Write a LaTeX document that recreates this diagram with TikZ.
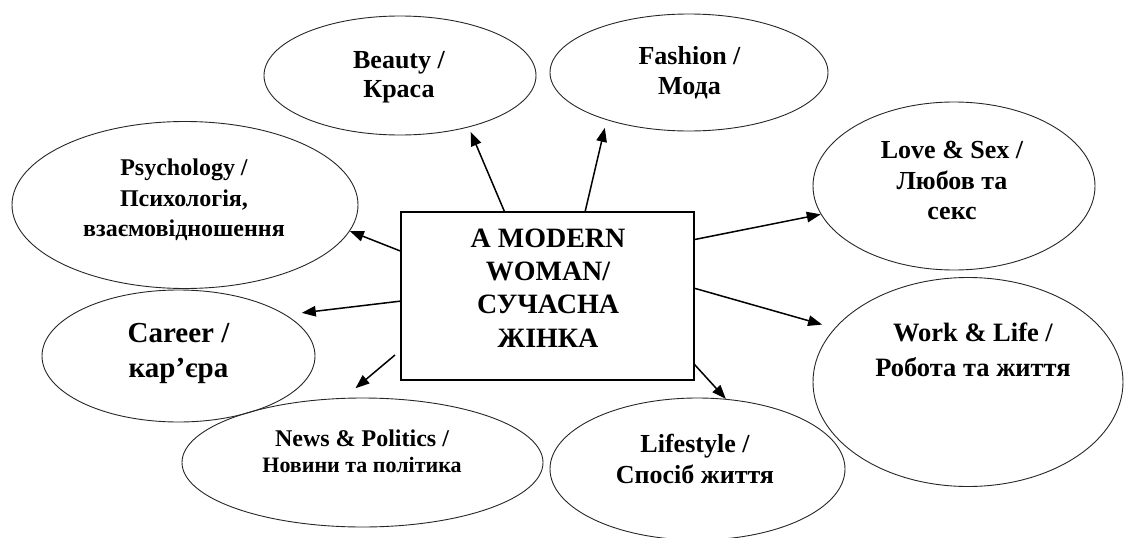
\documentclass[tikz,border=0pt]{standalone}
\usepackage{fontspec}
\setmainfont{Liberation Serif}
\usetikzlibrary{shapes.geometric,arrows.meta}
\begin{document}
\begin{tikzpicture}[x=1pt,y=-1pt,
  bubble/.style={draw=black!85, line width=0.9pt, ellipse, inner sep=0pt},
  lbl/.style={align=center, inner sep=0pt},
  arr/.style={-{Triangle[length=14pt,width=10.5pt]}, line width=1.5pt},
  centrebox/.style={draw, line width=1.2pt, inner sep=0pt, minimum width=293pt, minimum height=168pt}
]
\useasboundingbox (0,0) rectangle (1125,538);

% ellipses
\node[bubble, minimum width=272pt, minimum height=119pt] (beauty)  at (400,75.5) {};
\node[bubble, minimum width=278pt, minimum height=117pt] (fashion) at (689,72.5) {};
\node[bubble, minimum width=346pt, minimum height=167pt] (psych)   at (185,205) {};
\node[bubble, minimum width=273pt, minimum height=132pt] (career)  at (178.5,356) {};
\node[bubble, minimum width=282pt, minimum height=168pt] (love)    at (954,186) {};
\node[bubble, minimum width=310pt, minimum height=209pt] (work)    at (968,382) {};
\node[bubble, minimum width=295pt, minimum height=142pt] (life)    at (697.5,469) {};
\node[bubble, minimum width=361pt, minimum height=129pt] (news)    at (362.5,462.5) {};

% centre box
\node[centrebox] (box) at (547.5,296) {};

% labels
\node[lbl, font=\fontsize{26}{29}\selectfont\bfseries] (tbeauty) at (399,77) {Beauty /\\Краса};
\node[lbl, font=\fontsize{26}{30}\selectfont\bfseries] (tfashion) at (689.5,72.5) {Fashion /\\Мода};
\node[lbl, font=\fontsize{24}{30.5}\selectfont\bfseries] (tpsych) at (184,200) {Psychology /\\Психологія,\\взаємовідношення};
\node[lbl, font=\fontsize{29}{35}\selectfont\bfseries] (tcareer) at (178.5,353.6) {Career /\\кар’єра};
\node[lbl, font=\fontsize{26}{30.5}\selectfont\bfseries] (tlove) at (952,180.5) {Love \& Sex /\\Любов та\\секс};
\node[lbl, font=\fontsize{26.5}{35}\selectfont\bfseries] (twork) at (973,349.5) {Work \& Life /\\Робота та життя};
\node[lbl, font=\fontsize{26}{31}\selectfont\bfseries] (tlife) at (695,458.5) {Lifestyle /\\Спосіб життя};
\node[lbl, font=\fontsize{22}{26}\selectfont\bfseries] (tnews) at (362,451.5) {{\fontsize{24}{26}\selectfont News \& Politics /}\\Новини та політика};
\node[lbl, font=\fontsize{28}{33.3}\selectfont\bfseries] (tbox) at (548,288) {A MODERN\\WOMAN/\\СУЧАСНА\\ЖІНКА};

% connectors
\draw[arr, shorten >=5pt] (box.117.9) -- (beauty.-37.1);
\draw[arr, shorten >=8pt] (box.66.5) -- (fashion.-150.6);
\draw[arr] (box.163.6) -- (psych.-9.3);
\draw[arr, shorten >=16pt] (box.-178.8) -- (career.21.2);
\draw[arr] (box.21.6) -- (love.-168.9);
\draw[arr, shorten >=13pt] (box.3.1) -- (work.158.1);
\draw[arr] (box.-25.9) -- (life.68.6);
\coordinate (newsstart) at (395,355);
\draw[arr, shorten >=15pt] (newsstart) -- (news.106);
\end{tikzpicture}
\end{document}
